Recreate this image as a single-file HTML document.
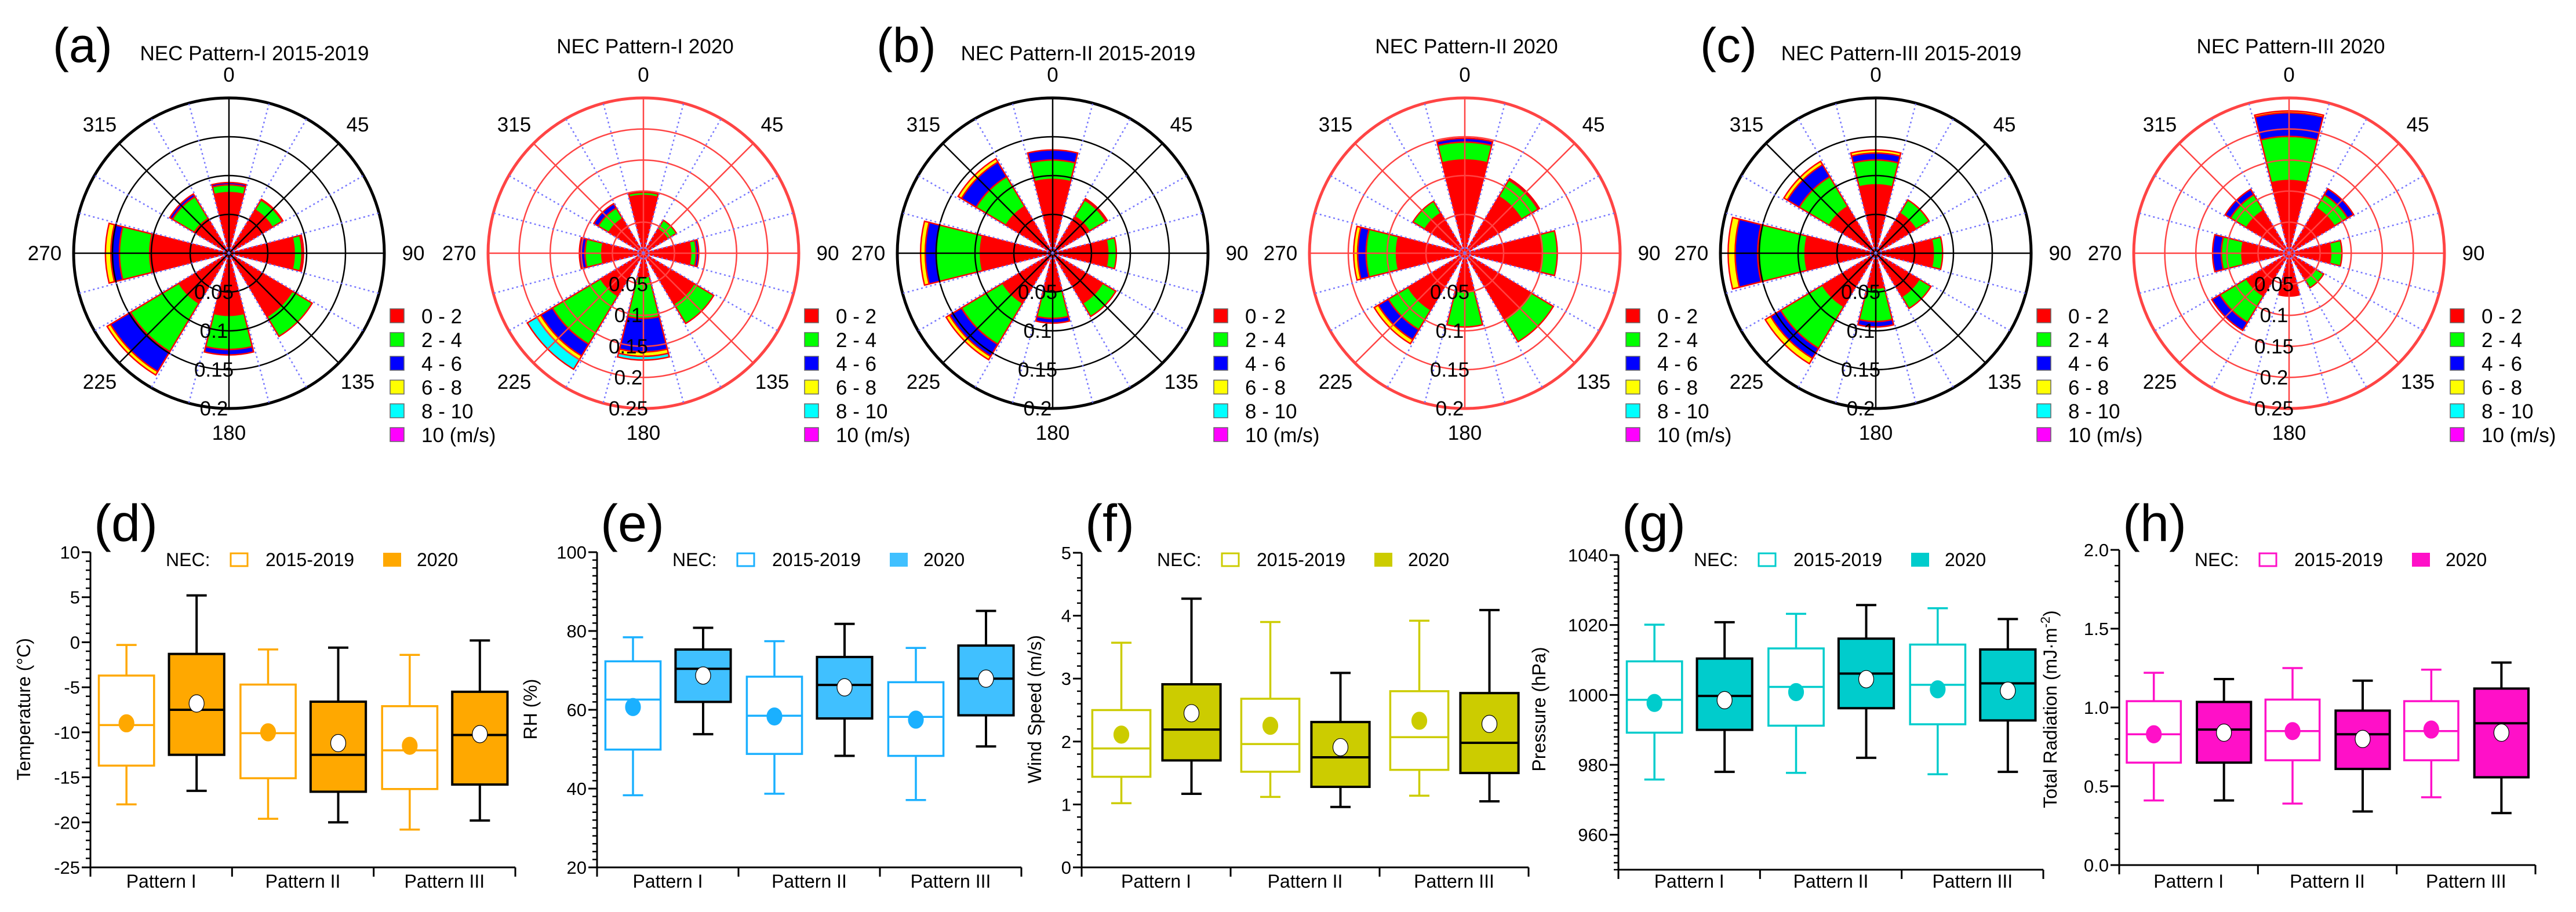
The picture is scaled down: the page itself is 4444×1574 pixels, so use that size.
<!DOCTYPE html>
<html><head><meta charset="utf-8">
<style>
html,body{margin:0;padding:0;background:#fff;}
svg{display:block;font-family:"Liberation Sans",Arial,sans-serif;}
</style></head>
<body>
<svg id="fig" width="4444" height="1574" viewBox="0 0 4444 1574" xmlns="http://www.w3.org/2000/svg"></svg>
<script>
// ---------- Wind rose data (cumulative frequency per direction: 0,45,...,315; bands 0-2,2-4,4-6,6-8,8-10) ----------
const roseDirections = [0,45,90,135,180,225,270,315];
const bandLabels = ["0 - 2","2 - 4","4 - 6","6 - 8","8 - 10","10 (m/s)"];
const bandColors = ["#ff0000","#00ff00","#0000ff","#ffff00","#00ffff","#ff00ff"];
const roseA1 = [[.078,.088,.091],[.065,.08,.081],[.084,.094,.096],[.095,.125],[.08,.124,.131],[.075,.148,.178,.183],[.102,.141,.152,.159],[.052,.085,.089]];
const roseA2 = [[.093,.098,.1],[.045,.062],[.076,.085,.089],[.095,.132],[.038,.105,.159,.166,.172],[.08,.171,.193,.2,.218],[.067,.094,.103],[.065,.085,.093]];
const roseB1 = [[.095,.12,.133],[.055,.08,.082],[.071,.082],[.075,.095],[.05,.084,.09],[.075,.137,.155,.16],[.093,.15,.164,.17],[.07,.115,.137,.142]];
const roseB2 = [[.12,.143,.148],[.085,.11,.112],[.098,.119],[.098,.133],[.05,.095],[.085,.115,.13,.136],[.088,.127,.138,.143],[.06,.078]];
const roseC1 = [[.088,.12,.129,.133],[.06,.08],[.074,.086],[.065,.083],[.045,.088,.095],[.08,.143,.158,.166],[.091,.152,.181,.19],[.07,.115,.133,.138]];
const roseC2 = [[.117,.188,.226,.229],[.085,.11,.121],[.067,.085],[.05,.065],[.069],[.08,.13,.145],[.076,.109,.123],[.08,.11,.12]];
const roseMax = [0.2,0.25,0.2,0.2,0.2,0.25];
const roseTitles = ["NEC Pattern-I 2015-2019","NEC Pattern-I 2020","NEC Pattern-II 2015-2019","NEC Pattern-II 2020","NEC Pattern-III 2015-2019","NEC Pattern-III 2020"];

// ---------- Box plot data (order: PI 2015-19, PI 2020, PII 2015-19, PII 2020, PIII 2015-19, PIII 2020) ----------
const categories = ["Pattern I","Pattern II","Pattern III"];
const tempHi=[-0.3,5.2,-0.8,-0.6,-1.4,0.2], tempQ3=[-3.7,-1.3,-4.7,-6.6,-7.1,-5.5], tempMed=[-9.2,-7.5,-10.1,-12.5,-12,-10.3], tempQ1=[-13.7,-12.5,-15.1,-16.6,-16.3,-15.8], tempLo=[-18,-16.5,-19.6,-20,-20.8,-19.8], tempMean=[-9.0,-6.8,-10.0,-11.2,-11.5,-10.2];
const rhHi=[78.4,80.8,77.4,81.8,75.7,85.1], rhQ3=[72.3,75.3,68.4,73.4,67.0,76.3], rhMed=[62.6,70.4,58.5,66.3,58.2,67.9], rhQ1=[49.9,62.0,48.8,57.8,48.3,58.6], rhLo=[38.3,53.8,38.7,48.3,37.1,50.7], rhMean=[60.7,68.7,58.3,65.7,57.5,67.9];
const wsHi=[3.57,4.27,3.9,3.09,3.92,4.09], wsQ3=[2.5,2.91,2.68,2.31,2.8,2.77], wsMed=[1.89,2.19,1.96,1.75,2.07,1.98], wsQ1=[1.44,1.7,1.52,1.28,1.55,1.5], wsLo=[1.02,1.17,1.12,0.96,1.14,1.05], wsMean=[2.11,2.45,2.25,1.91,2.33,2.28];
const pHi=[1020.1,1020.8,1023.2,1025.7,1024.8,1021.7], pQ3=[1009.6,1010.4,1013.3,1016.1,1014.4,1013.0], pMed=[998.6,999.7,1002.3,1006.1,1002.9,1003.3], pQ1=[989.2,990.0,991.2,996.2,991.6,992.7], pLo=[975.8,978.0,977.7,982.0,977.3,978.0], pMean=[997.7,998.5,1000.8,1004.5,1001.6,1001.2];
const radHi=[1.22,1.18,1.25,1.17,1.24,1.285], radQ3=[1.04,1.035,1.05,0.98,1.04,1.12], radMed=[0.83,0.86,0.85,0.83,0.85,0.9], radQ1=[0.65,0.65,0.665,0.61,0.665,0.557], radLo=[0.41,0.41,0.39,0.34,0.43,0.33], radMean=[0.83,0.84,0.85,0.80,0.86,0.84];
const tempTicks=[10,5,0,-5,-10,-15,-20,-25];
const rhTicks=[20,40,60,80,100];
const wsTicks=[0,1,2,3,4,5];
const pTicks=[960,980,1000,1020,1040];
const radTicks=["0.0","0.5","1.0","1.5","2.0"];

const NS="http://www.w3.org/2000/svg";
const svg=document.getElementById('fig');
function mk(tag,attrs,parent){const e=document.createElementNS(NS,tag);for(const k in attrs)e.setAttribute(k,attrs[k]);(parent||svg).appendChild(e);return e;}
function txt(s,attrs,parent){const e=mk('text',attrs,parent);e.textContent=s;return e;}

// ---------- Wind roses ----------
const roseData=[roseA1,roseA2,roseB1,roseB2,roseC1,roseC2];
const roseCX=[395,1110,1816,2527,3236,3949];
const roseCY=437, R=268;
function pol(cx,cy,r,a){const t=a*Math.PI/180;return [cx+r*Math.sin(t),cy-r*Math.cos(t)];}
function sector(cx,cy,r0,r1,a0,a1){
  const p1=pol(cx,cy,r0,a0),p2=pol(cx,cy,r1,a0),p3=pol(cx,cy,r1,a1),p4=pol(cx,cy,r0,a1);
  let d=`M${p1[0]},${p1[1]} L${p2[0]},${p2[1]} A${r1},${r1} 0 0 1 ${p3[0]},${p3[1]} L${p4[0]},${p4[1]}`;
  if(r0>0)d+=` A${r0},${r0} 0 0 0 ${p1[0]},${p1[1]}`;
  return d+'Z';
}
roseData.forEach((rd,ri)=>{
  const cx=roseCX[ri],cy=roseCY,max=roseMax[ri];
  const g=mk('g',{});
  
  
  const rs=v=>v/max*R;
  const grid=ri%2===0?'#000':'#ff4444';
  // petals
  rd.forEach((bands,di)=>{
    const a=roseDirections[di];
    let prev=0;
    bands.forEach((v,bi)=>{
      const p=mk('path',{d:sector(cx,cy,rs(prev),rs(v),a-14,a+14),fill:bandColors[bi],stroke:'#ff0000','stroke-width':2.5,'stroke-linejoin':'miter'},g);
      
      
      prev=v;
    });
  });
  // grid rings
  const step=0.05;
  for(let v=step;v<max-1e-6;v+=step){mk('circle',{cx,cy,r:rs(v),fill:'none',stroke:grid,'stroke-width':2.5},g);}
  mk('circle',{cx,cy,r:R,fill:'none',stroke:grid,'stroke-width':5},g);
  for(let a=0;a<360;a+=15){
    const p=pol(cx,cy,R,a);
    if(a%45===0) mk('line',{x1:cx,y1:cy,x2:p[0],y2:p[1],stroke:grid,'stroke-width':2.5},g);
    else mk('line',{x1:cx,y1:cy,x2:p[0],y2:p[1],stroke:'#7777ff','stroke-width':2.5,'stroke-dasharray':'3 5'},g);
  }
  // ring labels
  for(let v=step;v<=max+1e-6;v+=step){
    const t=txt(String(+v.toFixed(2)),{x:cx-26,y:cy+rs(v)+12,'font-size':35,'text-anchor':'middle'},g);
    
    
  }
  // angle labels
  const angPos=[[0,0,-296],[45,222,-210],[90,318,12],[135,222,234],[180,0,322],[225,-223,234],[270,-318,12],[315,-223,-210]];
  angPos.forEach(([lab,dx,dy])=>{
    const t=txt(String(lab),{x:cx+dx,y:cy+dy,'font-size':35,'text-anchor':'middle'},g);
    
    
  });
  // title
  const tt=txt(roseTitles[ri],{x:cx+(ri%2===0?44:3),y:ri%2===0?104:92,'font-size':35,'text-anchor':'middle'},g);
  
  
  // legend
  bandLabels.forEach((l,bi)=>{
    const y=545+bi*41;
    const r=mk('rect',{x:cx+278,y:y-12,width:24,height:24,fill:bandColors[bi],stroke:'#666','stroke-width':1.5},g);
    
    
    const t=txt(l,{x:cx+332,y:y+13,'font-size':35},g);
    
    
  });
});
[["(a)",91],["(b)",1512],["(c)",2933]].forEach(([s,x])=>{
  const t=txt(s,{x,y:107,'font-size':84});
  
  
});

// ---------- Box plots ----------
const panels=[
 {L:'(d)',x0:156,x1:889,top:953,bot:1497,ymin:-25,ymax:10,minor:1,ticks:tempTicks,hi:tempHi,q3:tempQ3,med:tempMed,q1:tempQ1,lo:tempLo,mean:tempMean,col:'#ffa800',title:'Temperature (°C)',tx:-104},
 {L:'(e)',x0:1030,x1:1762,top:953,bot:1497,ymin:20,ymax:100,minor:2,ticks:rhTicks,hi:rhHi,q3:rhQ3,med:rhMed,q1:rhQ1,lo:rhLo,mean:rhMean,col:'#1ab0ff',fill:'#40c0ff',title:'RH (%)',tx:-104},
 {L:'(f)',x0:1866,x1:2637,top:954,bot:1497,ymin:0,ymax:5,minor:0.2,ticks:wsTicks,hi:wsHi,q3:wsQ3,med:wsMed,q1:wsQ1,lo:wsLo,mean:wsMean,col:'#cccc00',title:'Wind Speed (m/s)',tx:-70},
 {L:'(g)',x0:2792,x1:3525,top:958,bot:1501,ymin:950,ymax:1040,minor:2,ticks:pTicks,hi:pHi,q3:pQ3,med:pMed,q1:pQ1,lo:pLo,mean:pMean,col:'#00cccc',title:'Pressure (hPa)',tx:-126},
 {L:'(h)',x0:3656,x1:4374,top:949,bot:1493,ymin:0,ymax:2,minor:0.1,ticks:radTicks,hi:radHi,q3:radQ3,med:radMed,q1:radQ1,lo:radLo,mean:radMean,col:'#ff10c8',title:'Total Radiation (mJ·m',tx:-108}
];
panels.forEach((P,pi)=>{
  const g=mk('g',{});
  
  
  const Y=v=>P.bot-(v-P.ymin)/(P.ymax-P.ymin)*(P.bot-P.top);
  const gw=(P.x1-P.x0)/3;
  // axes
  mk('line',{x1:P.x0,y1:P.top,x2:P.x0,y2:P.bot+1.5,stroke:'#000','stroke-width':3},g);
  mk('line',{x1:P.x0,y1:P.bot,x2:P.x1,y2:P.bot,stroke:'#000','stroke-width':3},g);
  const n=Math.round((P.ymax-P.ymin)/P.minor);
  for(let i=0;i<=n;i++){
    const v=P.ymin+i*P.minor;
    mk('line',{x1:P.x0-8,y1:Y(v),x2:P.x0,y2:Y(v),stroke:'#000','stroke-width':2.5},g);
  }
  P.ticks.forEach(tv=>{
    const v=parseFloat(tv);
    mk('line',{x1:P.x0-15,y1:Y(v),x2:P.x0,y2:Y(v),stroke:'#000','stroke-width':3},g);
    const t=txt(String(tv),{x:P.x0-18,y:Y(v)+11,'font-size':31,'text-anchor':'end'},g);
    
    
  });
  for(let i=0;i<=3;i++) mk('line',{x1:P.x0+i*gw,y1:P.bot,x2:P.x0+i*gw,y2:P.bot+16,stroke:'#000','stroke-width':3},g);
  categories.forEach((c,ci)=>{
    const t=txt(c,{x:P.x0+gw*(ci+0.5),y:1532,'font-size':32,'text-anchor':'middle'},g);
    
    
  });
  // y title
  const tg=mk('text',{transform:`translate(${P.x0+P.tx},1224) rotate(-90)`,'font-size':32,'text-anchor':'middle'},g);
  
  
  tg.textContent=P.title;
  if(pi===4){const s=mk('tspan',{'baseline-shift':'super','font-size':22},tg);s.textContent='-2';const s2=mk('tspan',{},tg);s2.textContent=')';}
  // boxes
  for(let k=0;k<6;k++){
    const ci=Math.floor(k/2),filled=k%2===1;
    const cx=P.x0+gw*(ci+0.5)+(filled?61:-60);
    const w=gw*0.39,cw=35;
    const line=filled?'#000':P.col, fillc=filled?(P.fill||P.col):'#fff', sw=filled?4:3.5;
    const bg=mk('g',{},g);
    
    
    mk('line',{x1:cx,y1:Y(P.hi[k]),x2:cx,y2:Y(P.lo[k]),stroke:line,'stroke-width':sw},bg);
    mk('line',{x1:cx-cw/2,y1:Y(P.hi[k]),x2:cx+cw/2,y2:Y(P.hi[k]),stroke:line,'stroke-width':sw},bg);
    mk('line',{x1:cx-cw/2,y1:Y(P.lo[k]),x2:cx+cw/2,y2:Y(P.lo[k]),stroke:line,'stroke-width':sw},bg);
    mk('rect',{x:cx-w/2,y:Y(P.q3[k]),width:w,height:Y(P.q1[k])-Y(P.q3[k]),fill:fillc,stroke:line,'stroke-width':sw},bg);
    mk('line',{x1:cx-w/2,y1:Y(P.med[k]),x2:cx+w/2,y2:Y(P.med[k]),stroke:line,'stroke-width':sw},bg);
    mk('ellipse',{cx,cy:Y(P.mean[k]),rx:13,ry:15,fill:filled?'#fff':P.col,stroke:filled?'#000':P.col,'stroke-width':1.2},bg);
  }
  // legend
  const ly=966;
  const t1=txt('NEC:',{x:P.x0+130,y:ly+11,'font-size':32},g);
  
  const r1=mk('rect',{x:P.x0+242,y:ly-11,width:29,height:22,fill:'#fff',stroke:P.col,'stroke-width':3},g);
  
  const t2=txt('2015-2019',{x:P.x0+302,y:ly+11,'font-size':32},g);
  
  const r2=mk('rect',{x:P.x0+505,y:ly-12,width:31,height:24,fill:(P.fill||P.col)},g);
  
  const t3=txt('2020',{x:P.x0+563,y:ly+11,'font-size':32},g);
  
  const pl=txt(P.L,{x:P.x0+6,y:934,'font-size':90},g);
  
});
</script>
</body></html>
